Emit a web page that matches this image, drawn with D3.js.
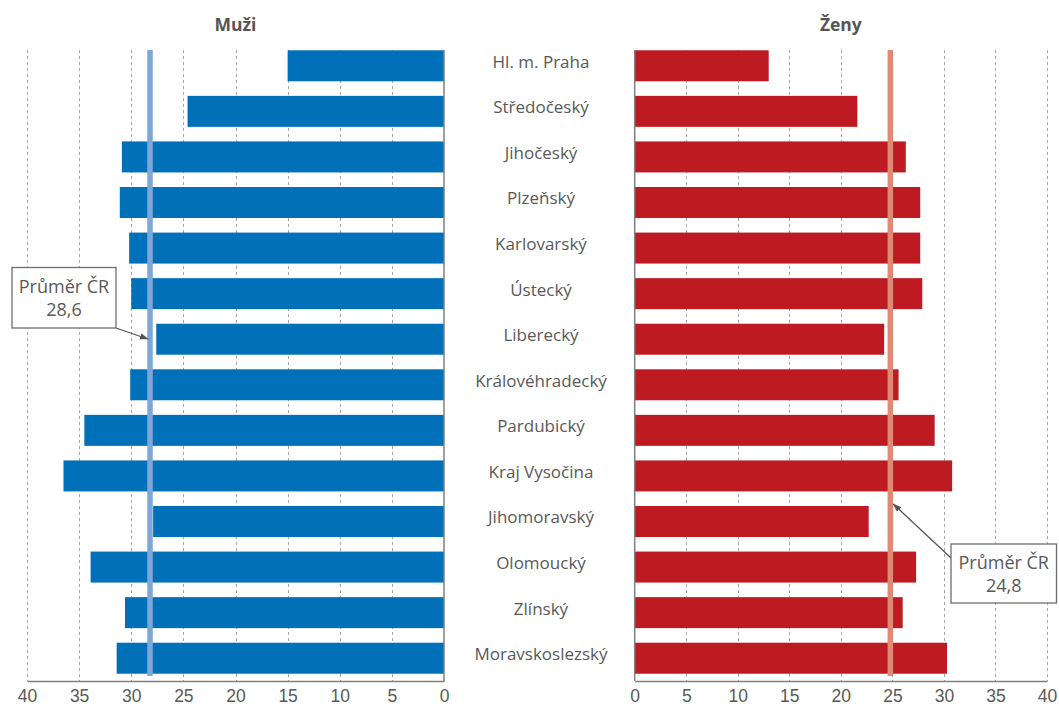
<!DOCTYPE html>
<html>
<head>
<meta charset="utf-8">
<script src="https://cdn.jsdelivr.net/npm/d3@7"></script>
<style>
  body { margin: 0; background: #fff; }
  svg { display: block; font-family: "Open Sans", sans-serif; }
</style>
</head>
<body>
<svg id="chart" width="1059" height="713"></svg>
<script>
const regions = [
  'Hl. m. Praha', 'Středočeský', 'Jihočeský', 'Plzeňský', 'Karlovarský',
  'Ústecký', 'Liberecký', 'Královéhradecký', 'Pardubický', 'Kraj Vysočina',
  'Jihomoravský', 'Olomoucký', 'Zlínský', 'Moravskoslezský'
];
const muzi = [15.0, 24.6, 30.9, 31.1, 30.2, 30.0, 27.6, 30.1, 34.5, 36.5, 27.9, 33.9, 30.6, 31.4];
const zeny = [13.0, 21.6, 26.3, 27.7, 27.7, 27.9, 24.2, 25.6, 29.1, 30.8, 22.7, 27.3, 26.0, 30.3];
// average lines as placed in the picture, and their labels
const avgLine = { muzi: 28.2, zeny: 24.8 };
const avgText = { muzi: '28,6', zeny: '24,8' };
const ticks = [0, 5, 10, 15, 20, 25, 30, 35, 40];

const svg = d3.select('#chart');
const plotTop = 50, plotBottom = 681;

const y = d3.scaleBand()
  .domain(regions)
  .range([43, plotBottom])
  .paddingInner(0.32)
  .paddingOuter(0.16);

const xL = d3.scaleLinear().domain([0, 40]).range([444, 27]);
const xR = d3.scaleLinear().domain([0, 40]).range([634.7, 1047]);

const gray = '#595959';

function panel(x, values, title, barColor, lineColor, key) {
  const g = svg.append('g');
  const x0 = x(0);

  // dotted grid
  g.selectAll('line.grid')
    .data(ticks.filter(t => t > 0))
    .join('line')
    .attr('class', 'grid')
    .attr('x1', d => Math.round(x(d)) + 0.5)
    .attr('x2', d => Math.round(x(d)) + 0.5)
    .attr('y1', plotTop)
    .attr('y2', plotBottom)
    .attr('stroke', '#a6a6a6')
    .attr('stroke-dasharray', '3,3');

  // bars
  g.selectAll('rect.bar')
    .data(values)
    .join('rect')
    .attr('class', 'bar')
    .attr('x', d => Math.min(x(d), x0))
    .attr('width', d => Math.abs(x(d) - x0))
    .attr('y', (d, i) => y(regions[i]))
    .attr('height', y.bandwidth())
    .attr('fill', barColor);

  // average line
  g.append('line')
    .attr('x1', x(avgLine[key]))
    .attr('x2', x(avgLine[key]))
    .attr('y1', plotTop)
    .attr('y2', 676)
    .attr('stroke', lineColor)
    .attr('stroke-width', 5.5);

  // bottom axis
  const axis = d3.axisBottom(x).tickValues(ticks).tickSize(0).tickPadding(9);
  const ax = g.append('g')
    .attr('transform', `translate(0,${plotBottom})`)
    .call(axis);
  ax.select('.domain').attr('stroke', '#7f7f7f').attr('stroke-width', 1.5);
  ax.selectAll('text')
    .attr('fill', gray)
    .style('font-size', '17.5px');

  // vertical axis at zero
  g.append('line')
    .attr('x1', x0).attr('x2', x0)
    .attr('y1', plotTop).attr('y2', plotBottom)
    .attr('stroke', '#7f7f7f')
    .attr('stroke-width', 1.5);

  // title
  g.append('text')
    .attr('x', (x(0) + x(40)) / 2)
    .attr('y', 31)
    .attr('text-anchor', 'middle')
    .attr('fill', '#555')
    .style('font-size', '17.5px')
    .style('font-weight', 'bold')
    .text(title);
}

panel(xL, muzi, 'Muži', '#0070b9', '#7ea7d9', 'muzi');
panel(xR, zeny, 'Ženy', '#bd1a22', '#e08a76', 'zeny');

// region labels
svg.append('g')
  .selectAll('text')
  .data(regions)
  .join('text')
  .attr('x', 541)
  .attr('y', d => y(d) + y.bandwidth() / 2 - 4)
  .attr('dy', '0.35em')
  .attr('text-anchor', 'middle')
  .attr('fill', gray)
  .style('font-size', '17px')
  .text(d => d);

// callouts
svg.append('defs').append('marker')
  .attr('id', 'arrow')
  .attr('viewBox', '0 0 10 10')
  .attr('refX', 9).attr('refY', 5)
  .attr('markerWidth', 7).attr('markerHeight', 7)
  .attr('orient', 'auto')
  .append('path')
  .attr('d', 'M0,1.5 L10,5 L0,8.5 z')
  .attr('fill', '#555');

function callout(bx, by, bw, bh, from, to, value) {
  const g = svg.append('g');
  g.append('line')
    .attr('x1', from[0]).attr('y1', from[1])
    .attr('x2', to[0]).attr('y2', to[1])
    .attr('stroke', '#555')
    .attr('stroke-width', 1.3)
    .attr('marker-end', 'url(#arrow)');
  g.append('rect')
    .attr('x', bx).attr('y', by)
    .attr('width', bw).attr('height', bh)
    .attr('fill', '#fff')
    .attr('stroke', '#6d6d6d')
    .attr('stroke-width', 1.3);
  g.append('text')
    .attr('x', bx + bw / 2).attr('y', by + 25)
    .attr('text-anchor', 'middle')
    .attr('fill', gray)
    .style('font-size', '18px')
    .text('Průměr ČR');
  g.append('text')
    .attr('x', bx + bw / 2).attr('y', by + 48)
    .attr('text-anchor', 'middle')
    .attr('fill', gray)
    .style('font-size', '18px')
    .text(value);
}

callout(12, 267.5, 104, 60.5, [116, 328], [xL(avgLine.muzi) - 2, 339], avgText.muzi);
callout(951, 544, 105.5, 59, [951, 558], [xR(avgLine.zeny) + 3, 504], avgText.zeny);
</script>
</body>
</html>
